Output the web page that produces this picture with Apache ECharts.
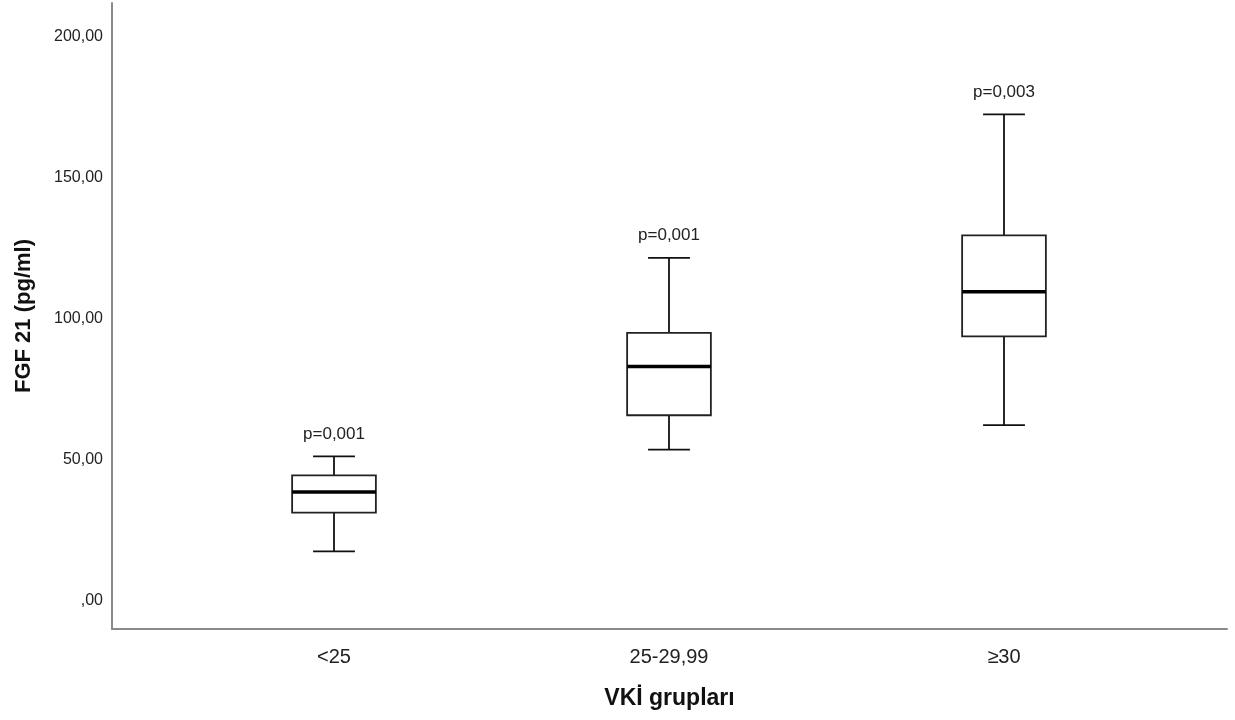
<!DOCTYPE html>
<html>
<head>
<meta charset="utf-8">
<script src="https://cdn.jsdelivr.net/npm/echarts@6/dist/echarts.min.js"></script>
<style>
html,body{margin:0;padding:0;background:#fff;}
#chart{width:1235px;height:720px;}
</style>
</head>
<body>
<div id="chart"></div>
<script>
const categories = ['<25', '25-29,99', '≥30'];
const whiskerLow = [17.5, 53.6, 62.3];
const quartile1 = [31.3, 65.8, 93.8];
const medians = [38.6, 83.1, 109.6];
const quartile3 = [44.5, 95.0, 129.6];
const whiskerHigh = [51.2, 121.6, 172.5];
const pLabels = ['p=0,001', 'p=0,001', 'p=0,003'];
const yTickValues = [0, 50, 100, 150, 200];
const xTitle = 'VKİ grupları';
const yTitle = 'FGF 21 (pg/ml)';

const FONT = '"Liberation Sans", Arial, sans-serif';
const boxData = categories.map((c, i) => [i, whiskerLow[i], quartile1[i], medians[i], quartile3[i], whiskerHigh[i]]);
const pData = categories.map((c, i) => [i, whiskerHigh[i], pLabels[i]]);

function fmt(v) {
  const s = v.toFixed(2).replace('.', ',');
  return v === 0 ? s.replace(/^0/, '') : s;
}

const chart = echarts.init(document.getElementById('chart'), null, {renderer: 'canvas'});
chart.setOption({
  backgroundColor: '#fff',
  animation: false,
  grid: [
    {left: 112, right: 8, top: 3, bottom: 91},
    {left: 166.5, right: 63.5, top: 3, bottom: 91}
  ],
  xAxis: [
    {
      gridIndex: 0, type: 'value', min: 0, max: 1,
      axisLine: {show: true, onZero: false, lineStyle: {color: '#8a8a8a', width: 2}},
      axisTick: {show: false}, axisLabel: {show: false}, splitLine: {show: false},
      name: xTitle, nameLocation: 'middle', nameGap: 58,
      nameTextStyle: {fontFamily: FONT, fontSize: 23, fontWeight: 'bold', color: '#111'}
    },
    {
      gridIndex: 1, type: 'category', data: categories,
      axisLine: {show: false}, axisTick: {show: false}, splitLine: {show: false},
      axisLabel: {fontFamily: FONT, fontSize: 20, color: '#222', margin: 18}
    }
  ],
  yAxis: [
    {
      gridIndex: 0, type: 'value', min: -10, max: 212, interval: 10,
      axisLine: {show: true, onZero: false, lineStyle: {color: '#8a8a8a', width: 2}},
      axisTick: {show: false}, splitLine: {show: false},
      axisLabel: {
        fontFamily: FONT, fontSize: 16, color: '#222', margin: 9,
        formatter: v => yTickValues.indexOf(v) >= 0 ? fmt(v) : ''
      },
      name: yTitle, nameLocation: 'middle', nameRotate: 90, nameGap: 77,
      nameTextStyle: {fontFamily: FONT, fontSize: 22, fontWeight: 'bold', color: '#111'}
    },
    {
      gridIndex: 1, type: 'value', min: -10, max: 212, show: false,
      splitLine: {show: false}
    }
  ],
  series: [
    {
      type: 'custom',
      xAxisIndex: 1, yAxisIndex: 1,
      data: boxData,
      encode: {x: 0, y: [1, 2, 3, 4, 5]},
      clip: false,
      renderItem: function (params, api) {
        const x = api.value(0);
        const lo = api.coord([x, api.value(1)]);
        const q1 = api.coord([x, api.value(2)]);
        const md = api.coord([x, api.value(3)]);
        const q3 = api.coord([x, api.value(4)]);
        const hi = api.coord([x, api.value(5)]);
        const band = api.size([1, 0])[0];
        const hw = band * 0.125;
        const cw = band * 0.0625;
        const cx = lo[0];
        const ls = {stroke: '#111', lineWidth: 1.8, fill: null};
        return {
          type: 'group',
          children: [
            {type: 'line', shape: {x1: cx, y1: hi[1], x2: cx, y2: q3[1]}, style: ls},
            {type: 'line', shape: {x1: cx, y1: q1[1], x2: cx, y2: lo[1]}, style: ls},
            {type: 'line', shape: {x1: cx - cw, y1: hi[1], x2: cx + cw, y2: hi[1]}, style: ls},
            {type: 'line', shape: {x1: cx - cw, y1: lo[1], x2: cx + cw, y2: lo[1]}, style: ls},
            {type: 'rect', shape: {x: cx - hw, y: q3[1], width: 2 * hw, height: q1[1] - q3[1]},
              style: {stroke: '#222', lineWidth: 1.8, fill: '#fff'}},
            {type: 'line', shape: {x1: cx - hw, y1: md[1], x2: cx + hw, y2: md[1]},
              style: {stroke: '#000', lineWidth: 3.5}}
          ]
        };
      },
      z: 2
    },
    {
      type: 'scatter',
      xAxisIndex: 1, yAxisIndex: 1,
      data: pData,
      symbolSize: 0,
      itemStyle: {opacity: 1},
      label: {
        show: true, position: 'top', distance: 14,
        fontFamily: FONT, fontSize: 17, color: '#222',
        formatter: p => p.data[2]
      },
      emphasis: {disabled: true},
      z: 3
    }
  ]
});
</script>
</body>
</html>
